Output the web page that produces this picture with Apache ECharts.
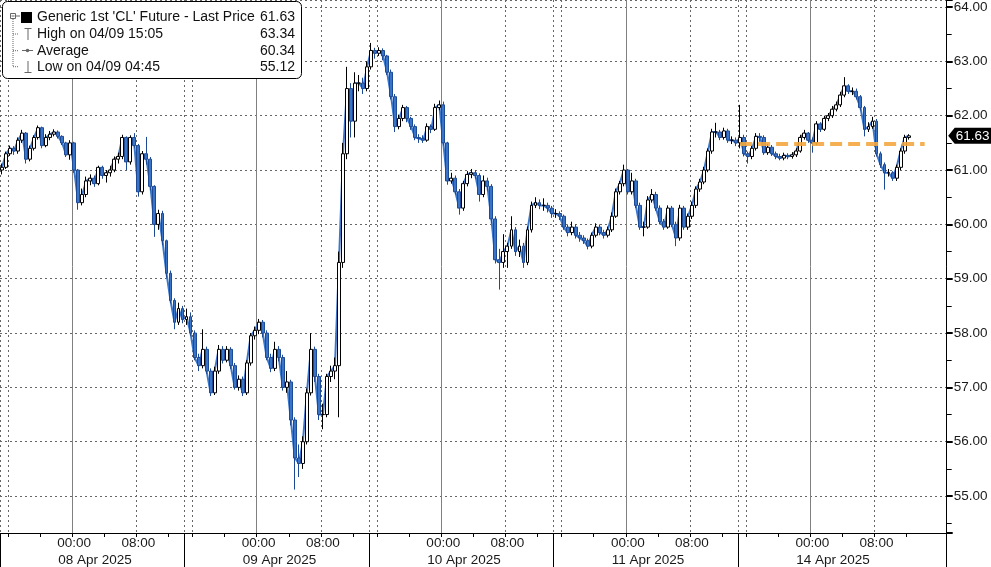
<!DOCTYPE html>
<html><head><meta charset="utf-8">
<script src="https://cdn.jsdelivr.net/npm/echarts@6/dist/echarts.min.js"></script>
<style>html,body{margin:0;padding:0;background:#fff}#c{width:991px;height:567px}</style>
</head><body><div id="c"></div>
<script>
// ---- data ----
const sessionDates = ['08 Apr 2025','09 Apr 2025','10 Apr 2025','11 Apr 2025','14 Apr 2025','15 Apr 2025'];
const barsPerSession = 46;          // 30-min bars, session 15:00 -> 14:00
const totalBars = 236;              // axis runs a little past the last session
const lastSessionEndBar = 230;      // no ticks / grid after the final session
const tickTimes = ['16:00','20:00','00:00','04:00','08:00','12:00'];
const timeLabelTimes = ['00:00','08:00'];
const dottedGridTimes = ['15:00','16:00','08:00'];
const solidGridTimes = ['00:00'];
const sessionStartTime = '15:00';
const dateLabelTime = '22:00';
const yTickDecimals = 2;

// [open, close, low, high] per 30-min bar
const ohlc = [
[61.00,61.05,60.92,61.12],[61.05,61.30,61.02,61.34],[61.30,61.40,61.26,61.45],[61.40,61.35,61.28,61.44],
[61.35,61.55,61.30,61.60],[61.55,61.68,61.50,61.74],[61.68,61.20,61.12,61.70],[61.20,61.40,61.16,61.45],
[61.40,61.60,61.36,61.64],[61.60,61.78,61.56,61.82],[61.78,61.45,61.40,61.80],[61.45,61.60,61.42,61.66],
[61.60,61.66,61.55,61.72],[61.66,61.70,61.62,61.75],[61.70,61.62,61.58,61.73],[61.62,61.50,61.46,61.64],
[61.50,61.28,61.24,61.52],[61.28,61.50,61.19,61.55],[61.50,61.00,60.95,61.52],[61.00,60.40,60.27,61.02],
[60.40,60.55,60.35,60.66],[60.55,60.80,60.50,60.88],[60.80,60.85,60.72,60.92],[60.85,60.75,60.69,60.90],
[60.75,61.05,60.72,61.08],[61.05,60.90,60.84,61.08],[60.90,60.95,60.77,61.00],[60.95,61.00,60.88,61.08],
[61.00,61.20,60.96,61.25],[61.20,61.25,61.12,61.32],[61.25,61.60,61.20,61.65],[61.60,61.15,61.00,61.62],
[61.15,61.60,61.10,61.64],[61.60,61.45,61.40,61.68],[61.45,60.60,60.51,61.48],[60.60,61.30,60.55,61.35],
[61.30,61.20,61.10,61.61],[61.20,60.70,60.62,61.24],[60.70,60.00,59.77,60.72],[60.00,60.20,59.90,60.27],
[60.20,59.70,59.62,60.25],[59.70,59.10,59.02,59.72],[59.10,58.60,58.55,59.15],[58.60,58.20,58.07,58.64],
[58.20,58.45,58.15,58.56],[58.45,58.25,58.18,58.50],
[58.25,58.30,58.15,58.45],[58.30,58.00,57.95,58.38],[58.00,57.55,57.50,58.05],[57.55,57.40,57.30,57.62],
[57.40,57.70,57.35,58.07],[57.70,57.30,57.25,57.75],[57.30,56.90,56.84,57.35],[56.90,57.30,56.86,57.38],
[57.30,57.70,57.25,57.78],[57.70,57.50,57.44,57.76],[57.50,57.70,57.46,57.76],[57.70,57.40,57.34,57.74],
[57.40,57.00,56.96,57.45],[57.00,57.15,56.94,57.22],[57.15,56.90,56.84,57.20],[56.90,57.45,56.86,57.50],
[57.45,57.95,57.40,58.00],[57.95,58.05,57.88,58.12],[58.05,58.20,57.98,58.26],[58.20,58.00,57.92,58.24],
[58.00,57.55,57.50,58.05],[57.55,57.35,57.28,57.62],[57.35,57.70,57.30,57.84],[57.70,57.55,57.48,57.76],
[57.55,57.00,56.94,57.60],[57.00,57.10,56.90,57.30],[57.10,56.40,56.30,57.14],[56.40,55.70,55.12,56.45],
[55.70,55.60,55.35,55.95],[55.60,56.00,55.50,56.10],[56.00,56.90,55.95,56.98],[56.90,57.70,56.85,58.00],
[57.70,57.20,57.10,57.75],[57.20,56.50,56.40,57.25],[56.50,56.50,56.23,56.70],[56.50,57.20,56.45,57.25],
[57.20,57.30,57.10,57.40],[57.30,57.40,57.15,57.55],[57.40,59.30,56.45,59.50],[59.30,61.30,59.20,61.50],
[61.30,62.50,61.20,62.90],[62.50,61.90,61.60,62.60],[61.90,62.60,61.60,62.80],[62.60,62.60,62.45,62.75],
[62.60,62.50,62.40,62.70],[62.50,62.90,62.45,63.00],
[62.90,63.20,62.85,63.34],[63.20,63.15,63.05,63.25],[63.15,63.20,63.10,63.26],[63.20,63.10,63.02,63.24],
[63.10,62.80,62.75,63.12],[62.80,62.35,62.30,62.85],[62.35,61.80,61.70,62.40],[61.80,61.95,61.75,62.02],
[61.95,62.15,61.90,62.20],[62.15,61.95,61.88,62.18],[61.95,61.80,61.74,61.98],[61.80,61.60,61.55,61.84],
[61.60,61.58,61.50,61.66],[61.58,61.55,61.50,61.64],[61.55,61.80,61.52,61.86],[61.80,61.75,61.68,61.84],
[61.75,62.15,61.72,62.22],[62.15,62.20,62.10,62.28],[62.20,61.50,61.45,62.26],[61.50,60.80,60.73,61.52],
[60.80,60.85,60.75,60.95],[60.85,60.60,60.55,60.90],[60.60,60.30,60.18,60.65],[60.30,60.75,60.25,60.80],
[60.75,60.92,60.70,60.98],[60.92,60.95,60.85,61.02],[60.95,60.90,60.84,61.00],[60.90,60.55,60.42,60.94],
[60.55,60.80,60.50,60.90],[60.80,60.70,60.62,60.86],[60.70,60.10,60.02,60.74],[60.10,59.35,59.28,60.15],
[59.35,59.30,58.80,59.55],[59.30,59.50,59.20,59.82],[59.50,59.60,59.20,59.66],[59.60,59.90,59.55,60.15],
[59.90,59.50,59.42,59.95],[59.50,59.60,59.40,59.72],[59.60,59.30,59.20,59.66],[59.30,59.90,59.25,59.96],
[59.90,60.35,59.85,60.42],[60.35,60.40,60.30,60.50],[60.40,60.35,60.28,60.46],[60.35,60.35,60.25,60.48],
[60.35,60.30,60.22,60.40],[60.30,60.20,60.12,60.34],
[60.20,60.20,60.12,60.28],[60.20,60.15,60.08,60.24],[60.15,59.95,59.90,60.18],[59.95,59.85,59.78,60.00],
[59.85,59.95,59.80,60.05],[59.95,59.80,59.74,60.00],[59.80,59.75,59.68,59.86],[59.75,59.70,59.64,59.80],
[59.70,59.60,59.54,59.74],[59.60,59.80,59.56,59.85],[59.80,59.95,59.76,60.02],[59.95,59.85,59.80,60.00],
[59.85,59.80,59.74,59.90],[59.80,59.90,59.76,59.96],[59.90,60.15,59.86,60.22],[60.15,60.60,60.12,60.66],
[60.60,60.75,60.55,60.80],[60.75,61.00,60.70,61.10],[61.00,60.60,60.55,61.02],[60.60,60.80,60.55,60.95],
[60.80,60.35,60.30,60.84],[60.35,59.95,59.90,60.40],[59.95,59.95,59.78,60.05],[59.95,60.45,59.92,60.52],
[60.45,60.55,60.40,60.65],[60.55,60.30,60.25,60.60],[60.30,60.05,60.00,60.35],[60.05,59.95,59.90,60.10],
[59.95,60.30,59.92,60.35],[60.30,60.00,59.95,60.34],[60.00,59.75,59.60,60.05],[59.75,60.30,59.70,60.36],
[60.30,59.95,59.90,60.34],[59.95,60.15,59.90,60.20],[60.15,60.35,60.10,60.42],[60.35,60.65,60.30,60.70],
[60.65,60.78,60.60,60.84],[60.78,61.00,60.74,61.06],[61.00,61.35,60.96,61.40],[61.35,61.70,61.30,61.76],
[61.70,61.70,61.60,61.87],[61.70,61.60,61.55,61.74],[61.60,61.72,61.56,61.78],[61.72,61.55,61.50,61.76],
[61.55,61.55,61.48,61.62],[61.55,61.50,61.44,61.60],
[61.50,61.60,61.40,62.20],[61.60,61.30,61.25,61.65],[61.30,61.25,61.12,61.34],[61.25,61.40,61.20,61.46],
[61.40,61.62,61.36,61.68],[61.62,61.60,61.52,61.68],[61.60,61.32,61.28,61.64],[61.32,61.42,61.28,61.48],
[61.42,61.30,61.26,61.46],[61.30,61.25,61.20,61.34],[61.25,61.22,61.18,61.30],[61.22,61.27,61.18,61.32],
[61.27,61.25,61.20,61.31],[61.25,61.28,61.21,61.33],[61.28,61.35,61.24,61.40],[61.35,61.60,61.32,61.65],
[61.60,61.68,61.56,61.74],[61.68,61.55,61.50,61.70],[61.55,61.50,61.32,61.60],[61.50,61.85,61.46,61.90],
[61.85,61.75,61.70,61.88],[61.75,61.95,61.72,62.00],[61.95,62.00,61.90,62.05],[62.00,62.12,61.96,62.18],
[62.12,62.20,62.08,62.26],[62.20,62.38,62.16,62.44],[62.38,62.55,62.34,62.71],[62.55,62.45,62.40,62.58],
[62.45,62.45,62.38,62.52],[62.45,62.35,62.30,62.50],[62.35,62.15,62.10,62.38],[62.15,61.75,61.62,62.18],
[61.75,61.80,61.70,61.88],[61.80,61.90,61.76,61.98],[61.90,61.30,61.25,61.94],[61.30,61.10,61.04,61.34],
[61.10,60.95,60.64,61.14],[60.95,60.95,60.88,61.02],[60.95,60.85,60.80,60.98],[60.85,61.05,60.80,61.10],
[61.05,61.35,61.00,61.40],[61.35,61.60,61.30,61.65],[61.60,61.63,61.56,61.66]
];

const refLevel = 61.48;        // dashed orange level
const refStartBar = 184, refEndBar = 230;
const lastPrice = 61.63;
const legendRows = [
  {text: "Generic 1st 'CL' Future - Last Price", value: '61.63'},
  {text: 'High on 04/09 15:05', value: '63.34'},
  {text: 'Average', value: '60.34'},
  {text: 'Low on 04/09 04:45', value: '55.12'}
];

// ---- categories ----
const categories = [];
for (let i = 0; i < totalBars; i++) {
  const s = Math.floor(i / barsPerSession), k = i % barsPerSession;
  const m = 15 * 60 + k * 30;
  const hh = Math.floor(m / 60) % 24, mm = m % 60;
  categories.push(sessionDates[s] + '|' + String(hh).padStart(2, '0') + ':' + String(mm).padStart(2, '0'));
}
const tOf = v => String(v).split('|')[1];
const dOf = v => String(v).split('|')[0];
const idxTime = (list) => (i, v) => i < lastSessionEndBar && list.indexOf(tOf(categories[i])) >= 0;
const closes = ohlc.map(r => r[1]);

const FONT = 'Liberation Sans';
const AX_FS = 13.5;
const chart = echarts.init(document.getElementById('c'), null, {renderer: 'canvas'});
const option = {
  animation: false,
  backgroundColor: '#ffffff',
  grid: {left: 0, right: 44.3, top: 0, bottom: 33, containLabel: false},
  xAxis: [
    {
      type: 'category', data: categories, boundaryGap: true, position: 'bottom',
      axisLine: {show: true, lineStyle: {color: '#000', width: 1}},
      axisTick: {show: true, length: 4, interval: idxTime(tickTimes), lineStyle: {color: '#000'}},
      axisLabel: {show: true, interval: idxTime(timeLabelTimes), formatter: v => tOf(v),
        color: '#1a1a1a', fontSize: AX_FS, fontFamily: FONT, margin: 3},
      splitLine: {show: true, interval: idxTime(dottedGridTimes), lineStyle: {color: '#666', type: [2, 3], width: 1}}
    },
    {
      type: 'category', data: categories, boundaryGap: true, position: 'bottom',
      axisLine: {show: false},
      axisTick: {show: true, length: 34, interval: idxTime([sessionStartTime]), lineStyle: {color: '#000'}},
      axisLabel: {show: true, interval: idxTime([dateLabelTime]), formatter: v => dOf(v), align: 'left',
        color: '#1a1a1a', fontSize: AX_FS, fontFamily: FONT, margin: 20},
      splitLine: {show: true, interval: idxTime(solidGridTimes), lineStyle: {color: '#808080', width: 1}}
    }
  ],
  yAxis: {
    type: 'value', position: 'right', min: 54.32, max: 64.13, minInterval: 1, maxInterval: 1, splitNumber: 10,
    axisLine: {show: true, lineStyle: {color: '#000', width: 1}},
    axisTick: {show: true, length: 6, lineStyle: {color: '#000', width: 2}},
    minorTick: {show: true, splitNumber: 2, length: 5, lineStyle: {color: '#000', width: 1}},
    splitLine: {show: true, lineStyle: {color: '#666', type: [2, 3], width: 1}},
    axisLabel: {showMinLabel: false, showMaxLabel: false, formatter: v => v.toFixed(yTickDecimals),
      color: '#1a1a1a', fontSize: AX_FS, fontFamily: FONT, margin: 7}
  },
  series: [
    {
      type: 'line', xAxisIndex: 0, data: closes, symbol: 'none', silent: true, z: 1,
      lineStyle: {color: '#3a76c9', width: 2}
    },
    {
      type: 'candlestick', xAxisIndex: 0, data: ohlc, barWidth: '85%', z: 2,
      itemStyle: {color: '#ffffff', color0: '#3a74c8', borderColor: '#000000', borderColor0: '#1d4a94', borderWidth: 1},
      markLine: {
        silent: true, symbol: 'none', label: {show: false},
        lineStyle: {color: '#f3a73f', width: 4, type: [12, 6], opacity: 0.9},
        data: [[{xAxis: categories[refStartBar], yAxis: refLevel}, {xAxis: categories[refEndBar], yAxis: refLevel}]]
      }
    }
  ]
};
chart.setOption(option);

// ---- legend box & last price tag ----
const g = [];
const LFS = '14px ';
g.push({type: 'rect', shape: {x: 2.5, y: 1.5, width: 299, height: 77, r: 5},
  style: {fill: '#fff', stroke: '#000', lineWidth: 1}, z: 100});
const rowY = [17.3, 34, 50.7, 66.7];
legendRows.forEach((r, i) => {
  g.push({type: 'text', x: 37, y: rowY[i], style: {text: r.text, fill: '#111', font: LFS + FONT, verticalAlign: 'middle', align: 'left'}, z: 101});
  g.push({type: 'text', x: 295, y: rowY[i], style: {text: r.value, fill: '#111', font: LFS + FONT, verticalAlign: 'middle', align: 'right'}, z: 101});
});
const icon = '#666';
g.push({type: 'rect', shape: {x: 10.5, y: 13.5, width: 5, height: 5}, style: {fill: '#fff', stroke: icon, lineWidth: 1}, z: 101});
g.push({type: 'line', shape: {x1: 11.5, y1: 16, x2: 14.5, y2: 16}, style: {stroke: icon, lineWidth: 1}, z: 101});
g.push({type: 'line', shape: {x1: 13, y1: 19, x2: 13, y2: 67}, style: {stroke: icon, lineWidth: 1, lineDash: [1, 1]}, z: 101});
[34, 50.7, 66.7].forEach(y => g.push({type: 'line', shape: {x1: 13, y1: y, x2: 18, y2: y}, style: {stroke: icon, lineWidth: 1, lineDash: [1, 1]}, z: 101}));
g.push({type: 'line', shape: {x1: 15.5, y1: 16, x2: 20, y2: 16}, style: {stroke: icon, lineWidth: 1}, z: 101});
g.push({type: 'rect', shape: {x: 21, y: 12, width: 11, height: 11}, style: {fill: '#000'}, z: 101});
g.push({type: 'line', shape: {x1: 24.5, y1: 28.5, x2: 31.5, y2: 28.5}, style: {stroke: icon, lineWidth: 1}, z: 101});
g.push({type: 'line', shape: {x1: 28, y1: 28.5, x2: 28, y2: 40}, style: {stroke: icon, lineWidth: 1}, z: 101});
g.push({type: 'line', shape: {x1: 22, y1: 50.5, x2: 33, y2: 50.5}, style: {stroke: icon, lineWidth: 1}, z: 101});
g.push({type: 'circle', shape: {cx: 27.5, cy: 50.5, r: 1.8}, style: {fill: icon}, z: 101});
g.push({type: 'line', shape: {x1: 28, y1: 61, x2: 28, y2: 72.5}, style: {stroke: icon, lineWidth: 1}, z: 101});
g.push({type: 'line', shape: {x1: 24.5, y1: 72.5, x2: 31.5, y2: 72.5}, style: {stroke: icon, lineWidth: 1}, z: 101});

const ty = chart.convertToPixel({yAxisIndex: 0}, lastPrice);
const ax = 991 - 44.3;
g.push({type: 'polygon', shape: {points: [[ax + 1.5, ty], [ax + 8, ty - 8], [991, ty - 8], [991, ty + 8], [ax + 8, ty + 8]]},
  style: {fill: '#000'}, z: 100});
g.push({type: 'text', x: ax + 9, y: ty, style: {text: lastPrice.toFixed(2), fill: '#fff', font: AX_FS + 'px ' + FONT, verticalAlign: 'middle', align: 'left'}, z: 101});
chart.setOption({graphic: g});
</script></body></html>
